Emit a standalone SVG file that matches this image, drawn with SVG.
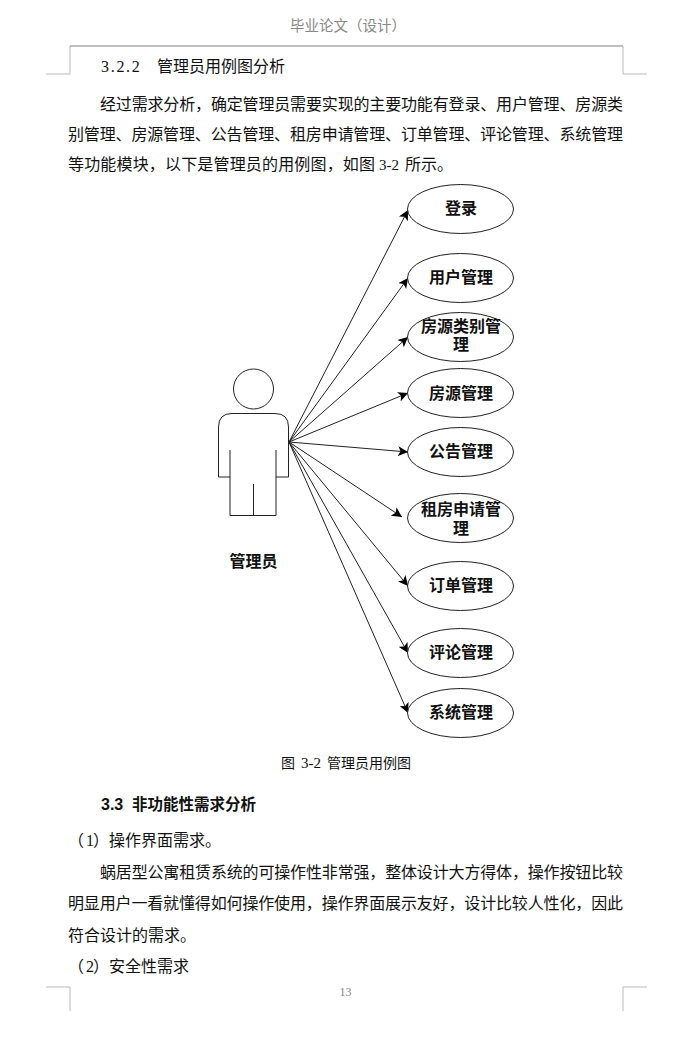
<svg xmlns="http://www.w3.org/2000/svg" width="683" height="1047" viewBox="0 0 683 1047">
<defs>
<marker id="arr" markerUnits="userSpaceOnUse" markerWidth="11" markerHeight="10" refX="10" refY="5" orient="auto"><path d="M0 0L10 5L0 10L2.500 5Z" fill="#000"/></marker>
</defs>
<style>
text{font-family:"Noto Sans CJK SC","Noto Sans",sans-serif;fill:#111;font-size:16px;text-spacing-trim:space-all}
.b{font-weight:700;text-anchor:middle}
.d{font-family:"Liberation Serif",serif}
.n{fill:#fff;stroke:#222;stroke-width:1}
.s{fill:none;stroke:#222;stroke-width:1}
.c{stroke:#222;stroke-width:1;fill:none;marker-end:url(#arr)}
.m{stroke:#bbb;stroke-width:1;fill:none}
</style>
<rect width="683" height="1047" fill="#fff"/>
<g id="page">
<path class="m" d="M46 74H70V46M647 74H623V46M46 987H70V1011M647 987H623V1011"/>
<path d="M70 46H623" stroke="#808080" stroke-width="1" fill="none"/>
<text x="290" y="31" style="fill:#888;font-size:14.500px">毕业论文（设计）</text>
<text y="72"><tspan x="101" class="d" style="letter-spacing:1.700px">3.2.2</tspan><tspan x="157">管理员用例图分析</tspan></text>
<text x="100" y="110" textLength="523" lengthAdjust="spacing">经过需求分析，确定管理员需要实现的主要功能有登录、用户管理、房源类</text>
<text x="68" y="140" textLength="555" lengthAdjust="spacing">别管理、房源管理、公告管理、租房申请管理、订单管理、评论管理、系统管理</text>
<text x="68" y="170" textLength="307" lengthAdjust="spacing">等功能模块，以下是管理员的用例图，如图</text>
<text x="379" y="170" class="d" style="font-size:15px">3-2</text>
<text x="405" y="170">所示。</text>
<text y="768" style="font-size:14px"><tspan x="281">图</tspan><tspan x="301" class="d" style="font-size:15px">3-2</tspan><tspan x="327">管理员用例图</tspan></text>
<text y="810" style="font-weight:700;font-size:15.500px"><tspan x="101" style="font-family:'Liberation Sans',sans-serif;font-size:16px">3.3</tspan><tspan x="132">非功能性需求分析</tspan></text>
<text y="846"><tspan x="68">（</tspan><tspan x="86" class="d">1</tspan><tspan x="93">）</tspan><tspan x="109">操作界面需求。</tspan></text>
<text x="100" y="878" textLength="523" lengthAdjust="spacing">蜗居型公寓租赁系统的可操作性非常强，整体设计大方得体，操作按钮比较</text>
<text x="68" y="909" textLength="555" lengthAdjust="spacing">明显用户一看就懂得如何操作使用，操作界面展示友好，设计比较人性化，因此</text>
<text x="68" y="941">符合设计的需求。</text>
<text y="972"><tspan x="68">（</tspan><tspan x="86" class="d">2</tspan><tspan x="93">）</tspan><tspan x="109">安全性需求</tspan></text>
<text x="339.500" y="996" class="d" style="fill:#888;font-size:12px">13</text>
</g>
<g id="connectors">
<path class="c" d="M289 442L408 210"/>
<path class="c" d="M289 442L408 278"/>
<path class="c" d="M289 442L408 337"/>
<path class="c" d="M289 442L408 393"/>
<path class="c" d="M289 442L408 452"/>
<path class="c" d="M289 442L402 517"/>
<path class="c" d="M289 442L408 586"/>
<path class="c" d="M289 442L408 653"/>
<path class="c" d="M289 442L408 713"/>
</g>
<g id="actor">
<circle class="s" cx="253.500" cy="389" r="20"/>
<path class="s" d="M230 477H218.500V427Q218.500 413.500 232 413.500H275Q288.500 413.500 288.500 427V477H276M230 450V515.500H276V450M253.500 484V515.500"/>
<text class="b" x="253.500" y="567">管理员</text>
</g>
<g id="n1"><ellipse class="n" cx="460.500" cy="209" rx="53" ry="24.500"/><text class="b" x="461" y="214">登录</text></g>
<g id="n2"><ellipse class="n" cx="460.500" cy="278" rx="53" ry="24.500"/><text class="b" x="461" y="283">用户管理</text></g>
<g id="n3"><ellipse class="n" cx="460.500" cy="337" rx="53" ry="24.500"/><text class="b" y="332"><tspan x="461">房源类别管</tspan><tspan x="461" y="350">理</tspan></text></g>
<g id="n4"><ellipse class="n" cx="460.500" cy="393" rx="53" ry="24.500"/><text class="b" x="461" y="399">房源管理</text></g>
<g id="n5"><ellipse class="n" cx="460.500" cy="452" rx="53" ry="24.500"/><text class="b" x="461" y="457">公告管理</text></g>
<g id="n6"><ellipse class="n" cx="460.500" cy="518" rx="53" ry="24.500"/><text class="b" y="515"><tspan x="461">租房申请管</tspan><tspan x="461" y="534">理</tspan></text></g>
<g id="n7"><ellipse class="n" cx="460.500" cy="586" rx="53" ry="24.500"/><text class="b" x="461" y="591">订单管理</text></g>
<g id="n8"><ellipse class="n" cx="460.500" cy="653" rx="53" ry="24.500"/><text class="b" x="461" y="658">评论管理</text></g>
<g id="n9"><ellipse class="n" cx="460.500" cy="713" rx="53" ry="24.500"/><text class="b" x="461" y="718">系统管理</text></g>
</svg>
